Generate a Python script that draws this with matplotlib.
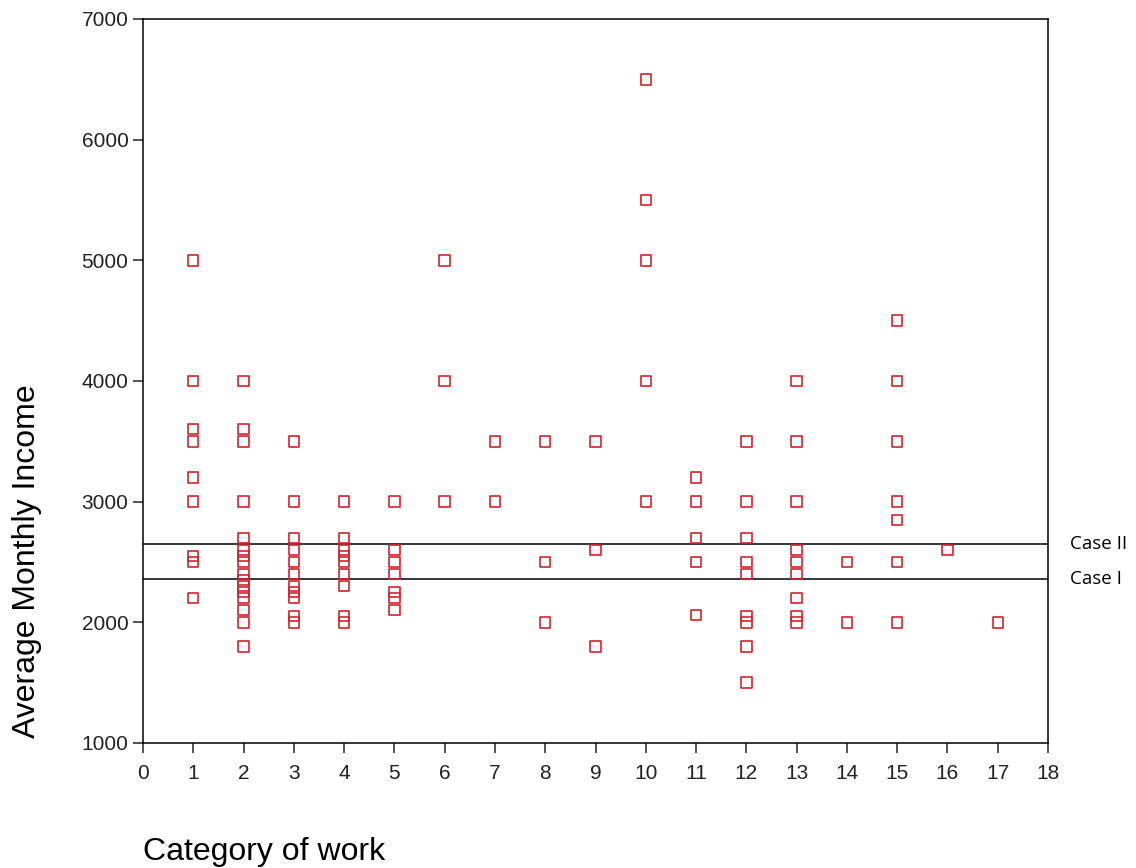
import matplotlib
matplotlib.use("Agg")
import matplotlib.pyplot as plt

plt.rcParams['font.family'] = ['Liberation Sans', 'DejaVu Sans']

cat1 = [5000, 4000, 3600, 3500, 3200, 3000, 2550, 2500, 2200]
cat2 = [4000, 3600, 3500, 3000, 2700, 2600, 2550, 2500, 2400, 2350, 2300,
        2250, 2200, 2100, 2000, 1800]
cat3 = [3500, 3000, 2700, 2600, 2500, 2400, 2300, 2250, 2200, 2050, 2000]
cat4 = [3000, 2700, 2600, 2550, 2500, 2400, 2300, 2050, 2000]
cat5 = [3000, 2600, 2500, 2400, 2250, 2200, 2100]
cat6 = [5000, 4000, 3000]
cat7 = [3500, 3000]
cat8 = [3500, 2500, 2000]
cat9 = [3500, 2600, 1800]
cat10 = [6500, 5500, 5000, 4000, 3000]
cat11 = [3200, 3000, 2700, 2500, 2060]
cat12 = [3500, 3000, 2700, 2500, 2400, 2050, 2000, 1800, 1500]
cat13 = [4000, 3500, 3000, 2600, 2500, 2400, 2200, 2050, 2000]
cat14 = [2500, 2000]
cat15 = [4500, 4000, 3500, 3000, 2850, 2500, 2000]
cat16 = [2600]
cat17 = [2000]

groups = [cat1, cat2, cat3, cat4, cat5, cat6, cat7, cat8, cat9, cat10,
          cat11, cat12, cat13, cat14, cat15, cat16, cat17]

case_names = ['Case II', 'Case I']
case_values = [2650, 2360]

xs = []
ys = []
for i, g in enumerate(groups):
    for v in g:
        xs.append(i + 1)
        ys.append(v)

fig = plt.figure(figsize=(11.36, 8.68), dpi=100)
ax = fig.add_axes([143/1136, 1 - 743/868, (1048-143)/1136, (743-19)/868])

ax.scatter(xs, ys, marker='s', s=56, facecolors='none',
           edgecolors='#d2232f', linewidths=1.2, zorder=3)

for name, val in zip(case_names, case_values):
    ax.axhline(val, color='black', lw=1.1, zorder=2)
    ax.annotate(name, xy=(1.0, val), xycoords=('axes fraction', 'data'),
                xytext=(16, 0), textcoords='offset points', va='center',
                ha='left', fontsize=13.5, family=['Open Sans', 'DejaVu Sans'],
                annotation_clip=False)

ax.set_xlim(0, 18)
ax.set_ylim(1000, 7000)
ax.set_xticks(range(0, 19))
ax.set_yticks(range(1000, 7001, 1000))
ax.tick_params(direction='out', length=7, width=1.1, labelsize=15,
               colors='#222222')
ax.tick_params(axis='x', pad=8)
for s in ax.spines.values():
    s.set_linewidth(1.1)

fig.text(27/1136, 1 - 561/868, 'Average Monthly Income', rotation=90,
         ha='center', va='center', fontsize=23)
fig.text(143/1136, 1 - 852/868, 'Category of work', ha='left',
         va='center', fontsize=23)

fig.savefig('out.png', dpi=100)
